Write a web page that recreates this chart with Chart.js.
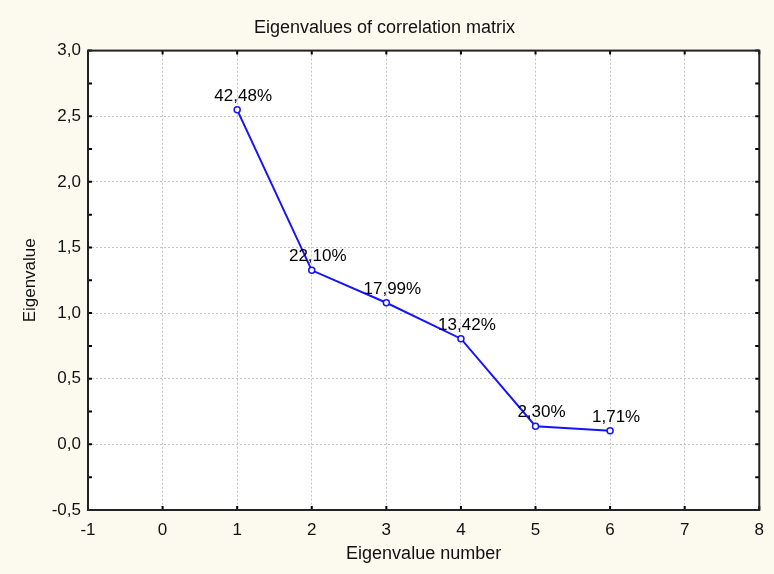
<!DOCTYPE html>
<html>
<head>
<meta charset="utf-8">
<title>Eigenvalues of correlation matrix</title>
<script src="https://cdn.jsdelivr.net/npm/chart.js@4/dist/chart.umd.min.js"></script>
<style>
  html, body { margin: 0; padding: 0; background: #fcf9ef; overflow: hidden; }
  #wrap { width: 774px; height: 574px; position: relative; }
</style>
</head>
<body>
<div id="wrap"><canvas id="scree"></canvas></div>
<script>
// data
const eigenNumbers = [1, 2, 3, 4, 5, 6];
const eigenValues = [2.549, 1.326, 1.079, 0.805, 0.138, 0.103];
const percentLabels = ['42,48%', '22,10%', '17,99%', '13,42%', '2,30%', '1,71%'];
const xTickValues = [-1, 0, 1, 2, 3, 4, 5, 6, 7, 8];
const yTickValues = [-0.5, 0, 0.5, 1, 1.5, 2, 2.5, 3];
const yMinorTicks = [-0.25, 0.25, 0.75, 1.25, 1.75, 2.25, 2.75];

const FONT = 'Arial, "Liberation Sans", sans-serif';
const fmt = v => Number(v).toFixed(1).replace('.', ',');

// white plot area, frame, inward tick marks and point labels
const framePlugin = {
    id: 'frame',
    beforeDraw(chart) {
        const { ctx, chartArea: a } = chart;
        ctx.save();
        ctx.fillStyle = '#ffffff';
        ctx.fillRect(a.left, a.top, a.right - a.left, a.bottom - a.top);
        ctx.restore();
    },
    afterDatasetsDraw(chart) {
        const { ctx, chartArea: a } = chart;
        const xs = chart.scales.x, ys = chart.scales.y;
        ctx.save();
        ctx.strokeStyle = '#000';
        ctx.lineWidth = 2;
        ctx.beginPath();
        xTickValues.forEach(v => {
            const px = xs.getPixelForValue(v);
            ctx.moveTo(px, a.bottom); ctx.lineTo(px, a.bottom - 4);
            ctx.moveTo(px, a.top); ctx.lineTo(px, a.top + 4);
        });
        yTickValues.concat(yMinorTicks).forEach(v => {
            const py = ys.getPixelForValue(v);
            ctx.moveTo(a.left, py); ctx.lineTo(a.left + 4, py);
            ctx.moveTo(a.right, py); ctx.lineTo(a.right - 4, py);
        });
        ctx.stroke();
        ctx.strokeStyle = '#222';
        ctx.strokeRect(a.left, a.top, a.right - a.left, a.bottom - a.top);

        // percentage labels
        const meta = chart.getDatasetMeta(0);
        ctx.fillStyle = '#000';
        ctx.font = '17px ' + FONT;
        ctx.textAlign = 'center';
        ctx.textBaseline = 'alphabetic';
        meta.data.forEach((pt, i) => {
            ctx.fillText(percentLabels[i], pt.x + 6, pt.y - 9);
        });
        ctx.restore();
    }
};

const ctx = document.getElementById('scree');
new Chart(ctx, {
    type: 'line',
    data: {
        datasets: [{
            data: eigenNumbers.map((n, i) => ({ x: n, y: eigenValues[i] })),
            borderColor: '#1414ff',
            borderWidth: 2,
            pointRadius: 3,
            pointBorderWidth: 1.5,
            pointBackgroundColor: '#ffffff',
            pointBorderColor: '#1414ff',
            tension: 0
        }]
    },
    options: {
        responsive: true,
        maintainAspectRatio: false,
        animation: false,
        layout: { padding: { left: 0, right: 5, top: 0, bottom: 0 } },
        plugins: {
            legend: { display: false },
            tooltip: { enabled: false },
            title: {
                display: true,
                text: 'Eigenvalues of correlation matrix',
                color: '#111',
                font: { family: FONT, size: 18, weight: 'normal' },
                padding: { top: 17, bottom: 12 }
            }
        },
        scales: {
            x: {
                type: 'linear',
                min: -1,
                max: 8,
                afterBuildTicks: s => { s.ticks = xTickValues.map(v => ({ value: v })); },
                afterFit: s => { s.height = 64; },
                grid: { color: '#c4c4c4', lineWidth: 1, drawTicks: false },
                border: { display: false, dash: [2, 2] },
                ticks: {
                    color: '#111',
                    padding: 10,
                    font: { family: FONT, size: 17 },
                    maxRotation: 0
                },
                title: {
                    display: true,
                    text: 'Eigenvalue number',
                    color: '#111',
                    font: { family: FONT, size: 18 },
                    padding: { top: 0, bottom: 9 }
                }
            },
            y: {
                min: -0.5,
                max: 3,
                afterBuildTicks: s => { s.ticks = yTickValues.map(v => ({ value: v })); },
                afterFit: s => { s.width = 88; },
                grid: { color: '#c4c4c4', lineWidth: 1, drawTicks: false },
                border: { display: false, dash: [2, 2] },
                ticks: {
                    color: '#111',
                    padding: 7,
                    font: { family: FONT, size: 17 },
                    callback: v => fmt(v)
                },
                title: {
                    display: true,
                    text: 'Eigenvalue',
                    color: '#111',
                    font: { family: FONT, size: 17 },
                    padding: { top: 20, bottom: 0 }
                }
            }
        }
    },
    plugins: [framePlugin]
});
</script>
</body>
</html>
